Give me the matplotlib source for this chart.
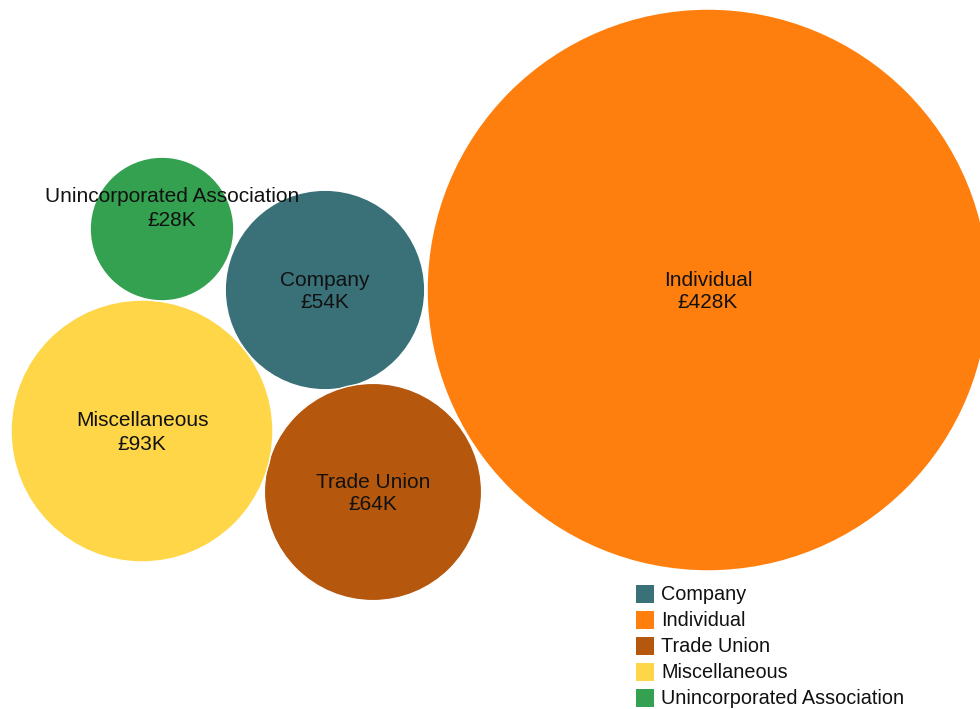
import numpy as np
import matplotlib.pyplot as plt
from matplotlib.patches import Circle, Rectangle

plt.rcParams['font.family'] = ['Liberation Sans', 'DejaVu Sans']

# donations by donor type, in £K
categories = ['Company', 'Individual', 'Trade Union', 'Miscellaneous', 'Unincorporated Association']
values = [54, 428, 64, 93, 28]
colors = ['#3a7179', '#ff7f0e', '#b5570d', '#fed648', '#34a150']

# packed layout: circle centres in pixels, radius scales with sqrt(value)
centres = {
    'Company': (325, 290),
    'Individual': (708, 290),
    'Trade Union': (373, 492),
    'Miscellaneous': (142, 431),
    'Unincorporated Association': (162, 229),
}
label_shift = {'Unincorporated Association': (10, -22)}
k = 13.58

fig = plt.figure(figsize=(9.8, 7.09), dpi=100)
ax = fig.add_axes([0, 0, 1, 1])
ax.set_xlim(0, 980)
ax.set_ylim(709, 0)
ax.set_aspect('equal')
ax.axis('off')

for name, val, col in zip(categories, values, colors):
    cx, cy = centres[name]
    r = k * np.sqrt(val)
    ax.add_patch(Circle((cx, cy), r, facecolor=col, edgecolor='white', lw=1))

for name, val in zip(categories, values):
    cx, cy = centres[name]
    dx, dy = label_shift.get(name, (0, 0))
    cx, cy = cx + dx, cy + dy
    ax.text(cx, cy - 10, name, ha='center', va='center', fontsize=15, color='#111111')
    ax.text(cx, cy + 13, f'£{val}K', ha='center', va='center', fontsize=15, color='#111111')

# legend
for i, (name, col) in enumerate(zip(categories, colors)):
    y = 594 + 26 * i
    ax.add_patch(Rectangle((636, y - 9), 18, 18, facecolor=col, edgecolor='none'))
    ax.text(661, y + 1, name, ha='left', va='center', fontsize=14.3, color='#111111')

fig.savefig('out.png', dpi=100)
